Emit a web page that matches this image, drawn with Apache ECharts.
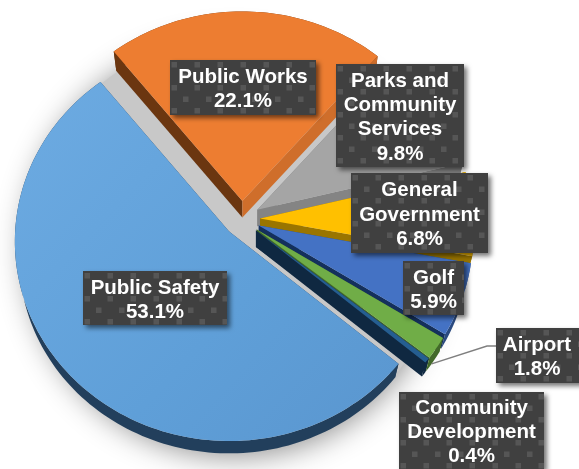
<!DOCTYPE html>
<html>
<head>
<meta charset="utf-8">
<script src="https://cdn.jsdelivr.net/npm/echarts@6/dist/echarts.min.js"></script>
<style>
  html, body { margin: 0; padding: 0; background: #fff; }
  #chart { width: 579px; height: 469px; overflow: hidden; }
</style>
</head>
<body>
<div id="chart"></div>
<script>
// Budget share by department
const categories = ['Public Safety', 'Public Works', 'Parks and\nCommunity\nServices', 'General\nGovernment', 'Golf', 'Airport', 'Community\nDevelopment'];
const shares = [53.1, 22.1, 9.8, 6.8, 5.9, 1.8, 0.4];

// Slice colours: top face, rim wall, trailing cut face
const topColors = ['#5B9BD5', '#ED7D31', '#A5A5A5', '#FFC000', '#4472C4', '#70AD47', '#255E91'];
const rimColors = ['#223F5C', '#6B3610', '#7C7C7C', '#987300', '#2A4A80', '#42692A', '#0F2841'];
const cutColors = ['#223F5C', '#CF6E2B', '#848484', '#9A7500', '#14305C', '#43682B', '#0F2841'];
const drawOrder = [1, 2, 3, 4, 5, 6, 0];

// Pie geometry
const pieCenter = [242, 219];
const explode = 18;
const radiusX = 214, radiusY = 199;
const tilt = 0.05, depth = 16.5, lowerShrink = 0.98;
const startDeg = 130;

// Floor shadow disc lying under the whole pie
const shadowCenter = [234, 244];
const shadowRadius = 208;

// Label boxes: x, y, width, height
const labelBoxes = [
  [83, 271, 144, 54], [170, 60, 146, 55], [336, 64, 128, 103], [351, 173, 137, 80],
  [403, 261, 61, 54], [496, 328, 90, 55], [399, 392, 145, 77]
];

const total = shares.reduce((a, b) => a + b, 0);
const startOf = [];
shares.reduce((sum, v, i) => { startOf[i] = sum; return sum + v; }, 0);

function rad(deg) { return deg * Math.PI / 180; }

function apexOf(i) {
  const mid = rad(startDeg + (startOf[i] + shares[i] / 2) / total * 360);
  return [pieCenter[0] + explode * Math.sin(mid), pieCenter[1] - explode * Math.cos(mid)];
}

// Rim position for a clockwise angle from twelve o'clock, with mild perspective
function rimPoint(apex, deg) {
  const u = Math.sin(rad(deg)), v = -Math.cos(rad(deg));
  const s = 1 / (1 - tilt * v);
  return [apex[0] + radiusX * u * s, apex[1] + radiusY * v * s];
}

function lower(apex, p) {
  return [apex[0] + (p[0] - apex[0]) * lowerShrink, apex[1] + (p[1] - apex[1]) * lowerShrink + depth];
}

function arcPoints(i, apex) {
  const a0 = startDeg + startOf[i] / total * 360;
  const a1 = a0 + shares[i] / total * 360;
  const n = Math.max(4, Math.ceil((a1 - a0) / 1.5));
  const pts = [];
  for (let k = 0; k <= n; k++) pts.push(rimPoint(apex, a0 + (a1 - a0) * k / n));
  return pts;
}

function poly(points, fill, z2) {
  return { type: 'polygon', z2: z2, silent: true, shape: { points: points }, style: { fill: fill } };
}

// Grey floor with a blurred edge past the rim; it also shows through the gaps between slices
function renderShadow() {
  return {
    type: 'circle', silent: true,
    shape: { cx: shadowCenter[0], cy: shadowCenter[1], r: shadowRadius },
    style: {
      fill: '#C8C8C8',
      shadowBlur: 30, shadowColor: 'rgba(0,0,0,0.45)', shadowOffsetX: 0, shadowOffsetY: 4
    }
  };
}

function renderSlice(params, api) {
  const i = params.dataIndex;
  const order = drawOrder.indexOf(i) * 10;
  const apex = apexOf(i);
  const arc = arcPoints(i, apex);
  const low = arc.map(p => lower(apex, p));
  const lowApex = lower(apex, apex);
  const first = arc[0], last = arc[arc.length - 1];
  const topFill = i === 0
    ? new echarts.graphic.LinearGradient(0, 0, 1, 1, [
        { offset: 0, color: '#6DABE2' }, { offset: 0.6, color: '#5F9FD8' }, { offset: 1, color: '#5A96CF' }
      ])
    : topColors[i];
  return {
    type: 'group',
    children: [
      poly(arc.concat(low.slice().reverse()), rimColors[i], order),
      poly([apex, first, low[0], lowApex], rimColors[i], order + 1),
      poly([apex, last, low[low.length - 1], lowApex], cutColors[i], order + 1),
      poly([apex].concat(arc), topFill, order + 2)
    ]
  };
}

// Dotted texture for the label boxes
function dotTexture() {
  const c = document.createElement('canvas');
  c.width = 23; c.height = 23;
  const g = c.getContext('2d');
  g.fillStyle = '#404040';
  g.fillRect(0, 0, 23, 23);
  g.fillStyle = '#565656';
  g.fillRect(1.5, 2, 5.5, 5.5);
  g.fillRect(13, 13.5, 5.5, 5.5);
  return c;
}
const texture = dotTexture();

function renderLabel(params, api) {
  const i = params.dataIndex;
  const b = labelBoxes[i];
  const text = categories[i] + '\n' + api.value(0) + '%';
  const children = [{
    type: 'rect', x: b[0], y: b[1], silent: true,
    shape: { x: 0, y: 0, width: b[2], height: b[3] },
    style: {
      fill: { image: texture, repeat: 'repeat' },
      shadowBlur: 5, shadowColor: 'rgba(0,0,0,0.55)', shadowOffsetX: 3, shadowOffsetY: 3
    },
    z2: 200
  }, {
    type: 'text', x: b[0] + b[2] / 2 - (i === 5 ? 4 : 0), y: b[1] + b[3] / 2 + 2, silent: true, z2: 201,
    style: {
      text: text, fill: '#fff', align: 'center', verticalAlign: 'middle',
      font: 'bold 20.5px "Liberation Sans", Arial, sans-serif', lineHeight: 24.3
    }
  }];
  if (i === 5) {
    // leader from the Airport rim to its box
    const a = startDeg + (startOf[i] + shares[i] * 0.6) / total * 360;
    const rim = lower(apexOf(i), rimPoint(apexOf(i), a));
    children.unshift({
      type: 'polyline', silent: true, z2: 150,
      shape: { points: [rim, [487, b[1] + 18], [b[0], b[1] + 18]] },
      style: { stroke: '#7F7F7F', lineWidth: 1.5, fill: null }
    });
  }
  return { type: 'group', children: children };
}

const chart = echarts.init(document.getElementById('chart'), null, { renderer: 'canvas' });
chart.setOption({
  animation: false,
  backgroundColor: '#ffffff',
  series: [
    { type: 'custom', coordinateSystem: 'none', data: [total], renderItem: renderShadow, silent: true, z: 0 },
    { type: 'custom', coordinateSystem: 'none', data: shares, renderItem: renderSlice, silent: true, z: 1 },
    { type: 'custom', coordinateSystem: 'none', data: shares, renderItem: renderLabel, silent: true, z: 2 }
  ]
});
</script>
</body>
</html>
